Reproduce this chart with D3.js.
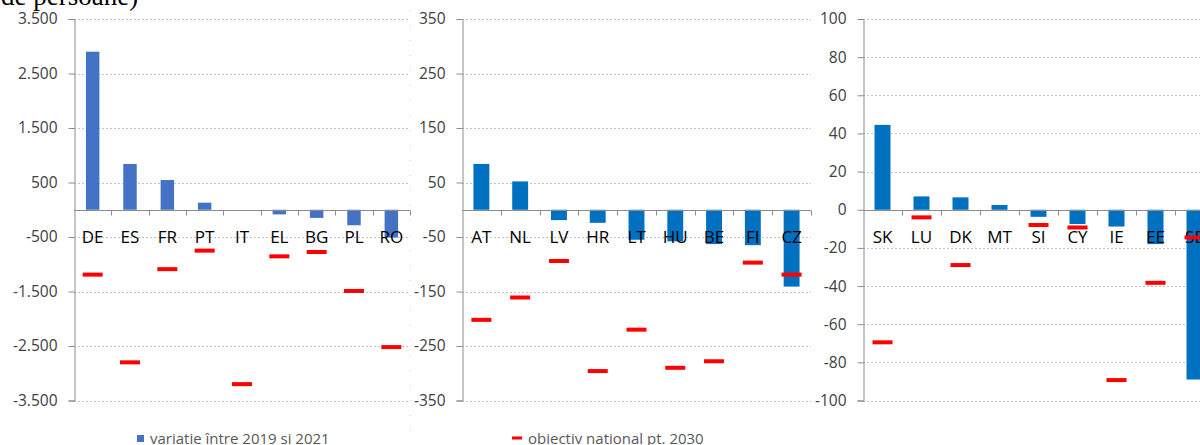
<!DOCTYPE html>
<html>
<head>
<meta charset="utf-8">
<script src="https://cdn.jsdelivr.net/npm/d3@7"></script>
<style>
  html, body { margin: 0; padding: 0; background: #fff; }
  svg { display: block; }
</style>
</head>
<body>
<svg id="chart" width="1200" height="445"></svg>
<script>
// Large member states (thousand persons)
const categories1 = ["DE", "ES", "FR", "PT", "IT", "EL", "BG", "PL", "RO"];
const change1 = [2900, 840, 545, 130, 0, -85, -150, -285, -510];
const target1 = [-1190, -2800, -1090, -750, -3200, -855, -775, -1490, -2520];
const ticks1 = [3500, 2500, 1500, 500, -500, -1500, -2500, -3500];

// Medium member states
const categories2 = ["AT", "NL", "LV", "HR", "LT", "HU", "BE", "FI", "CZ"];
const change2 = [84, 52, -19, -24, -55, -58, -63, -65, -141];
const target2 = [-202, -161, -94, -296, -220, -290, -278, -97, -119];
const ticks2 = [350, 250, 150, 50, -50, -150, -250, -350];

// Small member states
const categories3 = ["SK", "LU", "DK", "MT", "SI", "CY", "IE", "EE", "SE"];
const change3 = [44.5, 7, 6.5, 2.5, -3.7, -7.5, -8.8, -18, -89];
const target3 = [-69.5, -4, -29, null, -8, -9.3, -89.3, -38.3, -14.5];
const ticks3 = [100, 80, 60, 40, 20, 0, -20, -40, -60, -80, -100];

const legendLabels = ["variatie între 2019 si 2021", "obiectiv national pt. 2030"];

const svg = d3.select("#chart");
const fmt = d3.formatLocale({ decimal: ",", thousands: ".", grouping: [3], currency: ["", ""], minus: "-" }).format(",d");

const plotTop = 19, plotBottom = 400.5;

// Clipped subtitle fragment from the text above the chart
svg.append("text")
  .attr("x", 1).attr("y", 5)
  .attr("font-family", "Liberation Serif, Times New Roman, serif")
  .attr("font-size", 27)
  .attr("fill", "#000")
  .text("de persoane)");

// Faint dotted border between the first two chart blocks
svg.append("line")
  .attr("x1", 410.5).attr("x2", 410.5).attr("y1", 10).attr("y2", 440)
  .attr("stroke", "#cfcfcf").attr("stroke-width", 1).attr("stroke-dasharray", "1,14");

function panel(opts) {
  const { cats, change, target, ticks, x0, x1, barColor, pad } = opts;
  const g = svg.append("g");
  const y = d3.scaleLinear().domain([ticks[0], ticks[ticks.length - 1]]).range([plotTop, plotBottom]);
  const x = d3.scaleBand().domain(cats).range([x0, x1]).paddingInner(pad).paddingOuter(pad / 2);
  const step = x.step();

  // gridlines
  g.selectAll("line.grid").data(ticks.filter(t => t !== 0)).join("line")
    .attr("class", "grid")
    .attr("x1", x0).attr("x2", x1)
    .attr("y1", d => Math.round(y(d)) + 0.5).attr("y2", d => Math.round(y(d)) + 0.5)
    .attr("stroke", "#c4c4c4").attr("stroke-width", 1).attr("stroke-dasharray", "2,2");

  // y axis
  const yAxis = d3.axisLeft(y).tickValues(ticks).tickSize(6).tickPadding(11).tickFormat(d => fmt(d));
  const ya = g.append("g").attr("transform", `translate(${Math.round(x0) + 0.5},0)`).call(yAxis);
  ya.select(".domain").attr("stroke", "#8c8c8c");
  ya.selectAll(".tick line").attr("stroke", "#8c8c8c");
  ya.selectAll(".tick text")
    .attr("font-family", "Open Sans, sans-serif").attr("font-size", 15.5).attr("fill", "#404040");

  // bars: change between 2019 and 2021
  g.append("g").selectAll("rect").data(cats).join("rect")
    .attr("x", d => x(d))
    .attr("width", x.bandwidth())
    .attr("y", (d, i) => y(Math.max(0, change[i])))
    .attr("height", (d, i) => Math.abs(y(change[i]) - y(0)))
    .attr("fill", barColor);

  // zero line with category separators
  const y0 = Math.round(y(0)) + 0.5;
  g.append("line").attr("x1", x0).attr("x2", x1).attr("y1", y0).attr("y2", y0)
    .attr("stroke", "#8c8c8c").attr("stroke-width", 1);
  g.selectAll("line.sep").data(d3.range(1, cats.length + 1)).join("line")
    .attr("class", "sep")
    .attr("x1", i => Math.round(x0 + i * step) + 0.5).attr("x2", i => Math.round(x0 + i * step) + 0.5)
    .attr("y1", y0).attr("y2", y0 + 5)
    .attr("stroke", "#8c8c8c");

  // category labels, drawn over the bars
  g.selectAll("text.cat").data(cats).join("text")
    .attr("class", "cat")
    .attr("x", d => x(d) + x.bandwidth() / 2)
    .attr("y", y(0) + 33)
    .attr("text-anchor", "middle")
    .attr("font-family", "Open Sans, sans-serif").attr("font-size", 17)
    .attr("fill", "#000")
    .text(d => d);

  // 2030 national targets
  g.selectAll("rect.target").data(cats.map((c, i) => ({ c, v: target[i] })).filter(d => d.v !== null)).join("rect")
    .attr("class", "target")
    .attr("x", d => x(d.c) + x.bandwidth() / 2 - 10)
    .attr("width", 20)
    .attr("y", d => y(d.v) - 2)
    .attr("height", 4)
    .attr("fill", "#ff0000");
}

panel({ cats: categories1, change: change1, target: target1, ticks: ticks1, x0: 74, x1: 410, barColor: "#4472c4", pad: 0.64 });
panel({ cats: categories2, change: change2, target: target2, ticks: ticks2, x0: 462, x1: 811, barColor: "#0070c0", pad: 0.59 });
panel({ cats: categories3, change: change3, target: target3, ticks: ticks3, x0: 863, x1: 1214, barColor: "#0070c0", pad: 0.59 });

// Legend
const lg = svg.append("g").attr("font-family", "Open Sans, sans-serif").attr("font-size", 15).attr("fill", "#595959");
lg.append("rect").attr("x", 137).attr("y", 435).attr("width", 7).attr("height", 7).attr("fill", "#4472c4");
lg.append("text").attr("x", 150).attr("y", 444).text(legendLabels[0]);
lg.append("rect").attr("x", 512).attr("y", 436.5).attr("width", 10).attr("height", 3).attr("fill", "#ff0000");
lg.append("text").attr("x", 528).attr("y", 444).text(legendLabels[1]);
</script>
</body>
</html>
